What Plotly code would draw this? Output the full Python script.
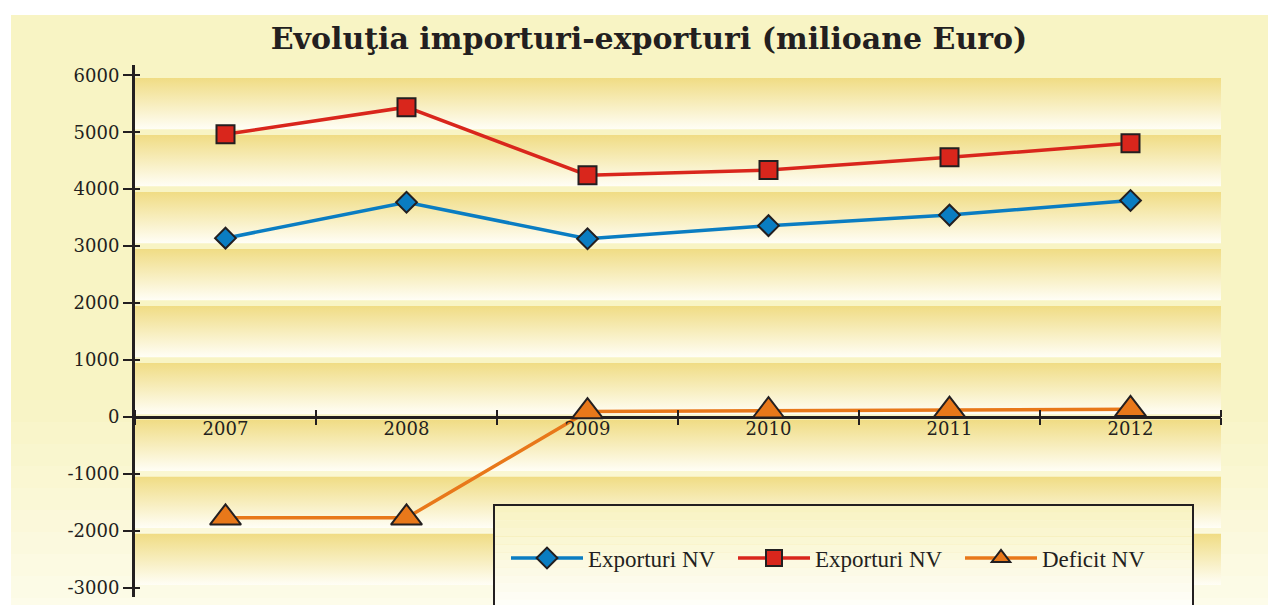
import plotly.graph_objects as go

# ---- data ----
years = ["2007", "2008", "2009", "2010", "2011", "2012"]
exporturi_1 = [3140, 3770, 3130, 3360, 3545, 3800]
exporturi_2 = [4965, 5440, 4245, 4335, 4560, 4805]
deficit = [-1770, -1770, 95, 110, 120, 135]
series_names = ["Exporturi NV", "Exporturi NV", "Deficit NV"]
y_ticks = [-3000, -2000, -1000, 0, 1000, 2000, 3000, 4000, 5000, 6000]
y_ticktext = [str(v) for v in y_ticks]
title_text = "Evoluţia importuri-exporturi (milioane Euro)"

# ---- layout constants (screen px; the page body adds an 8px margin) ----
OFF = 8
W, H = 1276 - OFF, 605 - OFF
L, R, T, B = 135 - OFF, 55, 65 - OFF, 8
YMIN, YMAX = -3160, 6180
INK = "#231F20"
PW = W - L - R
PH = H - T - B


def px_x(px):
    return (px - OFF - L) / PW


def px_y(py):
    return (H - B - (py - OFF)) / PH


def lerp(c1, c2, t):
    a = [int(c1[i:i + 2], 16) for i in (1, 3, 5)]
    b = [int(c2[i:i + 2], 16) for i in (1, 3, 5)]
    return "#%02x%02x%02x" % tuple(round(a[k] + (b[k] - a[k]) * t) for k in range(3))


fig = go.Figure()

# gradient bands between gridlines (decoration on base axis)
band_scale = [[0, "#FFFEF6"], [0.45, "#F8EFC2"], [1, "#F0DC84"]]
for k in range(-3, 6):
    lo, hi = k * 1000 + 50, (k + 1) * 1000 - 50
    fig.add_trace(go.Scatter(
        x=[0, 1, 1, 0, 0], y=[lo, lo, hi, hi, lo], mode="lines",
        fill="toself", line=dict(width=0, color="rgba(0,0,0,0)"),
        fillgradient=dict(type="vertical", colorscale=band_scale, start=lo, stop=hi),
        hoverinfo="skip", showlegend=False, xaxis="x", yaxis="y"))

# data series
specs = [
    (exporturi_1, "#0A7DC2", "diamond", 16),
    (exporturi_2, "#D9261C", "square", 18),
    (deficit, "#E8781A", "triangle-up", 27),
]
for (vals, col, sym, sz), nm in zip(specs, series_names):
    fig.add_trace(go.Scatter(
        x=years, y=vals, name=nm, mode="lines+markers",
        line=dict(color=col, width=3.5),
        marker=dict(symbol=sym, size=sz, color=col, line=dict(color=INK, width=2)),
        xaxis="x2", yaxis="y"))

# invisible helper trace for the crossing tick axes
fig.add_trace(go.Scatter(x=years, y=[0] * len(years), mode="lines",
                         line=dict(width=0), opacity=0, hoverinfo="skip",
                         showlegend=False, xaxis="x3", yaxis="y2"))

p0 = (0 - YMIN) / (YMAX - YMIN)

shapes = []
# page background
shapes.append(dict(type="rect", xref="paper", yref="paper",
                   x0=px_x(11), x1=px_x(1290), y0=px_y(620), y1=px_y(15),
                   fillcolor="#F8F4C4", line=dict(width=0), layer="below"))
n = 10
for i in range(n):
    ya = 400 + (620 - 400) * i / n
    yb = 400 + (620 - 400) * (i + 1) / n
    shapes.append(dict(type="rect", xref="paper", yref="paper",
                       x0=px_x(11), x1=px_x(1290), y0=px_y(yb), y1=px_y(ya),
                       fillcolor=lerp("#F8F4C4", "#FDFCEC", (i + 0.5) / n),
                       line=dict(width=0), layer="below"))
# legend box
lx0, lx1, ly0, ly1 = 494, 1193, 505, 615
n = 14
for i in range(n):
    ya = ly0 + (ly1 - ly0) * i / n
    yb = ly0 + (ly1 - ly0) * (i + 1) / n
    shapes.append(dict(type="rect", xref="paper", yref="paper",
                       x0=px_x(lx0), x1=px_x(lx1), y0=px_y(yb), y1=px_y(ya),
                       fillcolor=lerp("#F8F3C0", "#FFFFFF", (i + 0.5) / n),
                       line=dict(width=0), layer="above"))
shapes.append(dict(type="rect", xref="paper", yref="paper",
                   x0=px_x(lx0), x1=px_x(lx1), y0=px_y(ly1), y1=px_y(ly0),
                   fillcolor="rgba(0,0,0,0)", line=dict(width=2, color=INK), layer="above"))

tickfont = dict(family="DejaVu Serif", size=18, color=INK)

fig.update_layout(
    width=W, height=H,
    margin=dict(l=L, r=R, t=T, b=B, pad=0),
    paper_bgcolor="white",
    plot_bgcolor="rgba(0,0,0,0)",
    title=dict(text=title_text, xref="container", yref="container",
               x=(649 - OFF) / W, y=1 - (38 - OFF) / H, xanchor="center", yanchor="middle",
               font=dict(family="DejaVu Serif", size=30, color=INK, weight="bold")),
    xaxis=dict(range=[0, 1], visible=False, fixedrange=True),
    xaxis2=dict(type="category", categoryorder="array", categoryarray=years,
                range=[-0.5, 5.5], overlaying="x", anchor="free", position=p0,
                side="bottom", showline=False, ticks="outside", ticklen=7,
                tickwidth=2, tickcolor=INK, tickson="boundaries",
                tickfont=tickfont, showgrid=False, zeroline=False,
                ticklabelstandoff=-1),
    xaxis3=dict(type="category", categoryorder="array", categoryarray=years,
                range=[-0.5, 5.5], overlaying="x", anchor="free", position=p0,
                side="top", showline=False, ticks="outside", ticklen=7,
                tickwidth=2, tickcolor=INK, tickson="boundaries",
                showticklabels=False, showgrid=False, zeroline=False),
    yaxis=dict(range=[YMIN, YMAX], tickvals=y_ticks, ticktext=y_ticktext,
               ticks="outside", ticklen=9,
               tickwidth=2, tickcolor=INK, showline=True, linecolor=INK,
               linewidth=3, showgrid=False, zeroline=True, zerolinecolor=INK,
               zerolinewidth=3, tickfont=tickfont, anchor="x", side="left"),
    yaxis2=dict(range=[YMIN, YMAX], tickvals=y_ticks, overlaying="y",
                ticks="inside", ticklen=5, tickwidth=2, tickcolor=INK,
                showticklabels=False, showline=False, showgrid=False,
                zeroline=False, side="left", anchor="x3"),
    shapes=shapes,
    legend=dict(orientation="h", x=px_x(506), y=px_y(558), xanchor="left",
                yanchor="middle", bgcolor="rgba(0,0,0,0)", borderwidth=0,
                font=dict(family="Liberation Serif", size=23, color=INK),
                entrywidth=140, entrywidthmode="pixels", itemwidth=72),
    showlegend=True,
)

fig.write_html("out.html")
